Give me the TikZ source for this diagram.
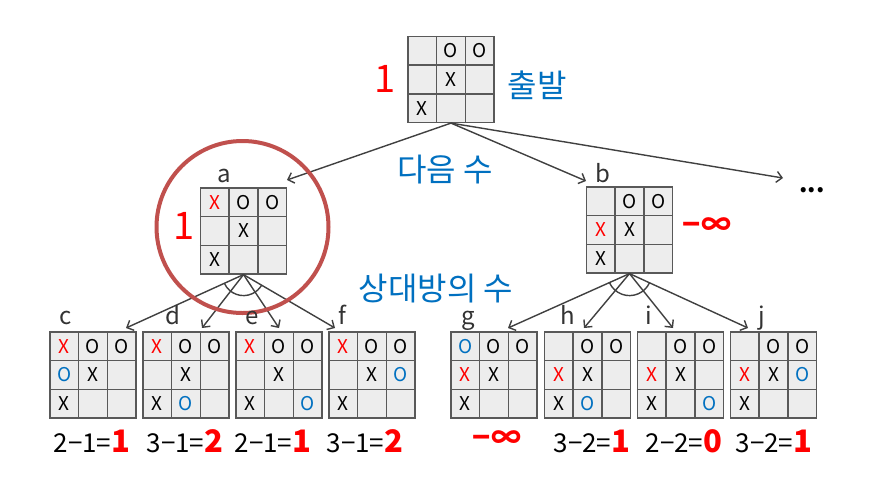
\documentclass[tikz,border=0pt]{standalone}
\usepackage{fontspec}
\setmainfont{Noto Sans CJK KR}
\usetikzlibrary{arrows.meta,calc}
\definecolor{kblue}{HTML}{0070C0}
\definecolor{kred}{HTML}{FF0000}
\definecolor{cellfill}{HTML}{EDEDED}
\definecolor{cellline}{HTML}{595959}
\definecolor{arrowc}{HTML}{404040}
\definecolor{circc}{HTML}{C0504D}
\definecolor{labc}{HTML}{333333}

\newcommand\RX{\textcolor{kred}{X}}
\newcommand\BO{\textcolor{kblue}{O}}

\tikzset{
  boardbox/.style={draw=cellline, fill=cellfill, line width=1.2pt, minimum size=86pt, inner sep=0pt},
  gridline/.style={draw=cellline, line width=1.2pt},
  cellmark/.style={inner sep=0pt, font=\fontsize{19}{19}\selectfont},
  conn/.style={draw=arrowc, line width=1.4pt, -{Straight Barb[length=5.5pt,width=11pt,line width=1.4pt]}},
  fan/.style={draw=arrowc, line width=1.4pt},
  boardlabel/.style={anchor=base, text=labc, inner sep=0pt, font=\fontsize{24}{24}\selectfont},
  kortext/.style={text=kblue, inner sep=0pt, font=\fontsize{32}{32}\selectfont},
  bigred/.style={text=kred, inner sep=0pt, font=\fontsize{38}{38}\selectfont},
  score/.style={anchor=base, inner sep=0pt, font=\fontsize{26}{26}\selectfont},
  infty/.style={text=kred, inner sep=0pt, font=\fontsize{30}{30}\selectfont\bfseries},
}
\newcommand\reddigit[1]{{\fontsize{31}{31}\selectfont\bfseries\textcolor{kred}{#1}}}

\newcommand\tttboard[4]{%
  \node[boardbox] (#1) at (#2,#3) {};
  \draw[gridline] ($(#1.north west)!1/3!(#1.north east)$) -- ($(#1.south west)!1/3!(#1.south east)$);
  \draw[gridline] ($(#1.north west)!2/3!(#1.north east)$) -- ($(#1.south west)!2/3!(#1.south east)$);
  \draw[gridline] ($(#1.north west)!1/3!(#1.south west)$) -- ($(#1.north east)!1/3!(#1.south east)$);
  \draw[gridline] ($(#1.north west)!2/3!(#1.south west)$) -- ($(#1.north east)!2/3!(#1.south east)$);
  \foreach \t [count=\i from 0] in {#4} {
    \pgfmathtruncatemacro\col{mod(\i,3)}
    \pgfmathtruncatemacro\row{div(\i,3)}
    \node[cellmark] at ($(#1.center)+(\col*28.67-28.67,\row*28.67-28.67)$) {\t};
  }
}

\begin{document}
\begin{tikzpicture}[x=1pt,y=-1pt]
  \path[fill=white, use as bounding box] (0,0) rectangle (878,483);

  % boards
  \tttboard{top}{451}{79.5}{{},O,O,{},X,{},X,{},{}}
  \tttboard{a}{243.5}{231}{\RX,O,O,{},X,{},X,{},{}}
  \tttboard{b}{629.5}{230}{{},O,O,\RX,X,{},X,{},{}}
  \tttboard{c}{93}{375}{\RX,O,O,\BO,X,{},X,{},{}}
  \tttboard{d}{186}{375}{\RX,O,O,{},X,{},X,\BO,{}}
  \tttboard{e}{279}{375}{\RX,O,O,{},X,{},X,{},\BO}
  \tttboard{f}{372}{375}{\RX,O,O,{},X,\BO,X,{},{}}
  \tttboard{g}{494}{375}{\BO,O,O,\RX,X,{},X,{},{}}
  \tttboard{h}{587.5}{375}{{},O,O,\RX,X,{},X,\BO,{}}
  \tttboard{i}{680.5}{375}{{},O,O,\RX,X,{},X,{},\BO}
  \tttboard{j}{773.5}{375}{{},O,O,\RX,X,\BO,X,{},{}}

  % arrow end points
  \coordinate (ta) at (287,180);
  \coordinate (tb) at (586,181);
  \coordinate (tm) at (783,178);
  \coordinate (tc) at (126,328);
  \coordinate (td) at (202,328);
  \coordinate (te) at (279,328);
  \coordinate (tf) at (335,328);
  \coordinate (tg) at (508,328);
  \coordinate (th) at (584,328);
  \coordinate (ti) at (673,328);
  \coordinate (tj) at (748,328);

  \draw[conn] (top.south) -- (ta);
  \draw[conn] (top.south) -- (tb);
  \draw[conn] (top.south) -- (tm);
  \foreach \k in {c,d,e,f} \draw[conn] (a.south) -- (t\k);
  \foreach \k in {g,h,i,j} \draw[conn] (b.south) -- (t\k);

  \draw[fan] ([shift={(a.south)}]205:21pt) arc[start angle=205, end angle=330, radius=21pt];
  \draw[fan] ([shift={(b.south)}]204:22pt) arc[start angle=204, end angle=335, radius=22pt];

  % highlight circle
  \node[draw=circc, line width=4pt, circle, minimum size=172pt, inner sep=0pt] (ring) at (242.5,227) {};

  % board labels
  \node[boardlabel] (la) at (224,182) {a};
  \node[boardlabel] (lb) at (603,182) {b};
  \node[boardlabel] (lc) at (66,324) {c};
  \node[boardlabel] (ld) at (173,324) {d};
  \node[boardlabel] (le) at (252,324) {e};
  \node[boardlabel] (lf) at (342,324) {f};
  \node[boardlabel] (lg) at (468,324) {g};
  \node[boardlabel] (lh) at (568,324) {h};
  \node[boardlabel] (li) at (649,324) {i};
  \node[boardlabel] (lj) at (762,324) {j};

  % texts
  \node[bigred] (vtop) at (385,79) {1};
  \node[bigred] (va) at (184,226) {1};
  \node[kortext] (start) at (537,85) {출발};
  \node[kortext] (next) at (445,170) {다음 수};
  \node[kortext] (opp) at (436,289) {상대방의 수};
  \node[infty] (vb) at (707,227) {−∞};
  \node[inner sep=0pt, font=\fontsize{24}{24}\selectfont\bfseries] (more) at (812,190) {...};

  % scores
  \node[score] (sc) at (92,452) {2−1=\reddigit{1}};
  \node[score] (sd) at (185,452) {3−1=\reddigit{2}};
  \node[score] (se) at (273,452) {2−1=\reddigit{1}};
  \node[score] (sf) at (365,452) {3−1=\reddigit{2}};
  \node[infty] (sg) at (497,440) {−∞};
  \node[score] (sh) at (592,452) {3−2=\reddigit{1}};
  \node[score] (si) at (684,452) {2−2=\reddigit{0}};
  \node[score] (sj) at (774,452) {3−2=\reddigit{1}};
\end{tikzpicture}
\end{document}
